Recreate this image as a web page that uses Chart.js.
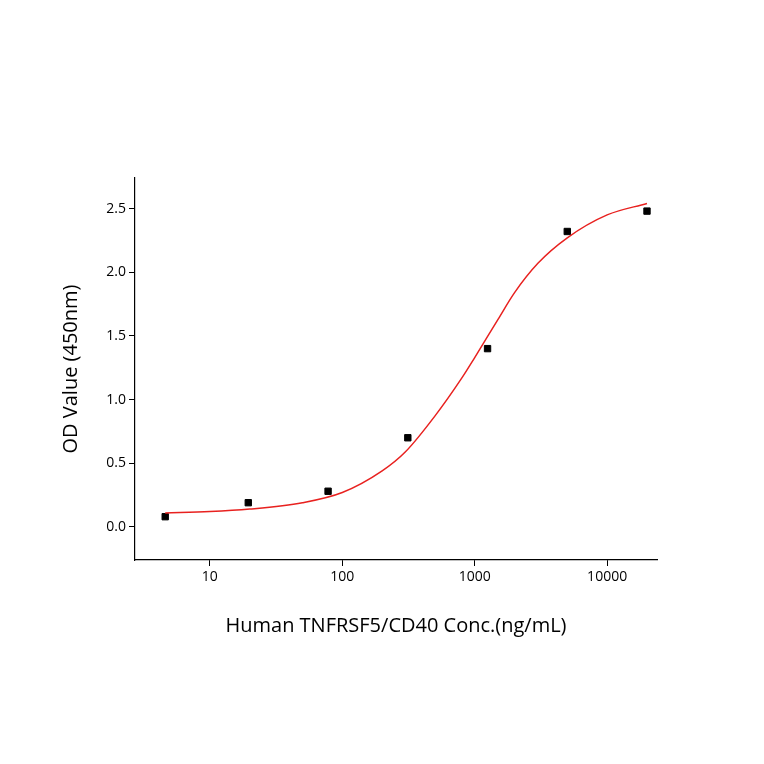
<!DOCTYPE html>
<html lang="en">
<head>
  <meta charset="UTF-8">
  <title>CD40 ELISA</title>
  <style>
    body { margin: 0; background: #fff; }
    #wrap { width: 764px; height: 764px; }
  </style>
</head>
<body>
  <div id="wrap"><canvas id="chart" width="764" height="764"></canvas></div>
  <script src="https://cdn.jsdelivr.net/npm/chart.js"></script>
  <script>
    // measured points
    const concentrations = [4.6, 19.5, 78.1, 312.5, 1250, 5000, 20000];
    const odValues = [0.08, 0.19, 0.28, 0.70, 1.40, 2.32, 2.48];

    // fitted curve
    const curveX = [4.6, 10, 20, 50, 100, 200, 300, 500, 800, 1000, 1500, 2000, 3000, 5000, 10000, 20000];
    const curveY = [0.11, 0.12, 0.14, 0.19, 0.27, 0.44, 0.59, 0.87, 1.17, 1.33, 1.63, 1.84, 2.07, 2.27, 2.45, 2.54];

    const xTicks = [10, 100, 1000, 10000];
    const yTicks = [0, 0.5, 1.0, 1.5, 2.0, 2.5];

    const tickFont = { family: 'Open Sans', size: 14 };
    const titleFont = { family: 'Open Sans', size: 20 };

    new Chart(document.getElementById('chart'), {
      type: 'scatter',
      data: {
        datasets: [
          {
            type: 'line',
            data: curveX.map((x, i) => ({ x: x, y: curveY[i] })),
            borderColor: '#e8211f',
            borderWidth: 1.5,
            pointRadius: 0,
            cubicInterpolationMode: 'monotone',
            fill: false
          },
          {
            data: concentrations.map((x, i) => ({ x: x, y: odValues[i] })),
            backgroundColor: '#000',
            borderColor: '#000',
            pointStyle: 'rect',
            pointRadius: 4.5
          }
        ]
      },
      options: {
        responsive: false,
        animation: false,
        layout: { padding: { top: 178, right: 107, left: 55, bottom: 122 } },
        plugins: { legend: { display: false }, tooltip: { enabled: false } },
        scales: {
          x: {
            type: 'logarithmic',
            min: 2.72,
            max: 23800,
            afterBuildTicks: s => { s.ticks = xTicks.map(v => ({ value: v })); },
            afterFit: s => { s.height = 82; },
            ticks: { color: '#000', font: tickFont, callback: v => String(v), maxRotation: 0, autoSkip: false },
            grid: { drawOnChartArea: false, tickLength: 6, color: '#000' },
            border: { color: '#000', width: 1.2 },
            title: { display: true, text: 'Human TNFRSF5/CD40 Conc.(ng/mL)', color: '#000', font: titleFont }
          },
          y: {
            min: -0.26,
            max: 2.74,
            afterBuildTicks: s => { s.ticks = yTicks.map(v => ({ value: v })); },
            afterFit: s => { s.width = 80; },
            ticks: { color: '#000', font: tickFont, callback: v => v.toFixed(1) },
            grid: { drawOnChartArea: false, tickLength: 6, color: '#000' },
            border: { color: '#000', width: 1.2 },
            title: { display: true, text: 'OD Value (450nm)', color: '#000', font: titleFont }
          }
        }
      }
    });
  </script>
</body>
</html>
